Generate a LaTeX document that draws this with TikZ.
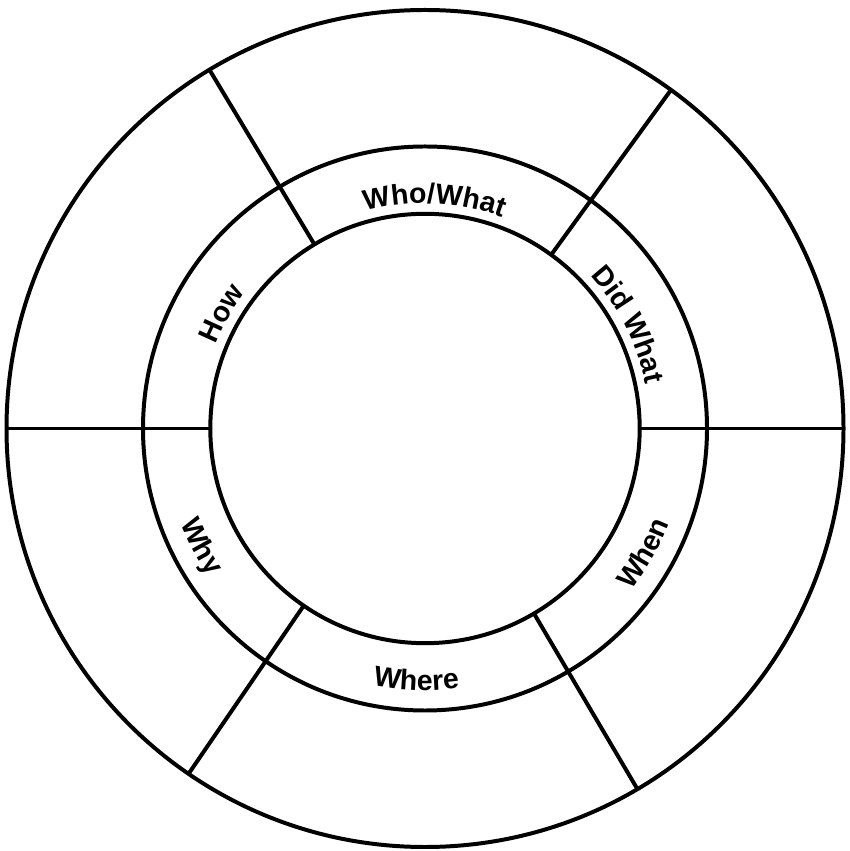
\documentclass[tikz,border=0pt]{standalone}
\usepackage{fontspec}
\setmainfont{Liberation Sans}
\usetikzlibrary{decorations.text}

\begin{document}
\begin{tikzpicture}[
    x=0.351pt, y=0.351pt,
    ring/.style={line width=1.4pt},
    spoke/.style={line width=1.4pt},
    ringtext/.style={decorate, decoration={text along path, text align=center,
        text={|\fontsize{10}{12}\selectfont\bfseries|#1}}}
]
    \useasboundingbox (-425,-422.5) rectangle (425,428.5);

    % Raggi dei cerchi
    \def\Rext{418.5}
    \def\Rmid{282}
    \def\Rint{214.7}
    \def\Rup{225}   % linea di base, metà superiore
    \def\Rdown{262} % linea di base, metà inferiore

    % Cerchi
    \draw[ring] (0,0) circle[radius=\Rext];
    \draw[ring] (0,0) circle[radius=\Rmid];
    \draw[ring] (0,0) circle[radius=\Rint];

    % Divisioni
    \foreach \a in {0, 54, 121, 180, 235.6, 300.5}
        \draw[spoke] (\a:\Rint) -- (\a:\Rext);

    % Testi sull'anello (metà superiore, senso orario)
    \path[ringtext=Who/What] (121:\Rup) arc[start angle=121, end angle=54, radius=\Rup];
    \path[ringtext=Did What] (54:\Rup) arc[start angle=54, end angle=0, radius=\Rup];
    \path[ringtext=How] (180:\Rup) arc[start angle=180, end angle=121, radius=\Rup];

    % Testi sull'anello (metà inferiore, senso antiorario)
    \path[ringtext=Why] (180:\Rdown) arc[start angle=180, end angle=235.6, radius=\Rdown];
    \path[ringtext=Where] (235.6:\Rdown) arc[start angle=235.6, end angle=300.5, radius=\Rdown];
    \path[ringtext=When] (300.5:\Rdown) arc[start angle=300.5, end angle=360, radius=\Rdown];

\end{tikzpicture}
\end{document}
